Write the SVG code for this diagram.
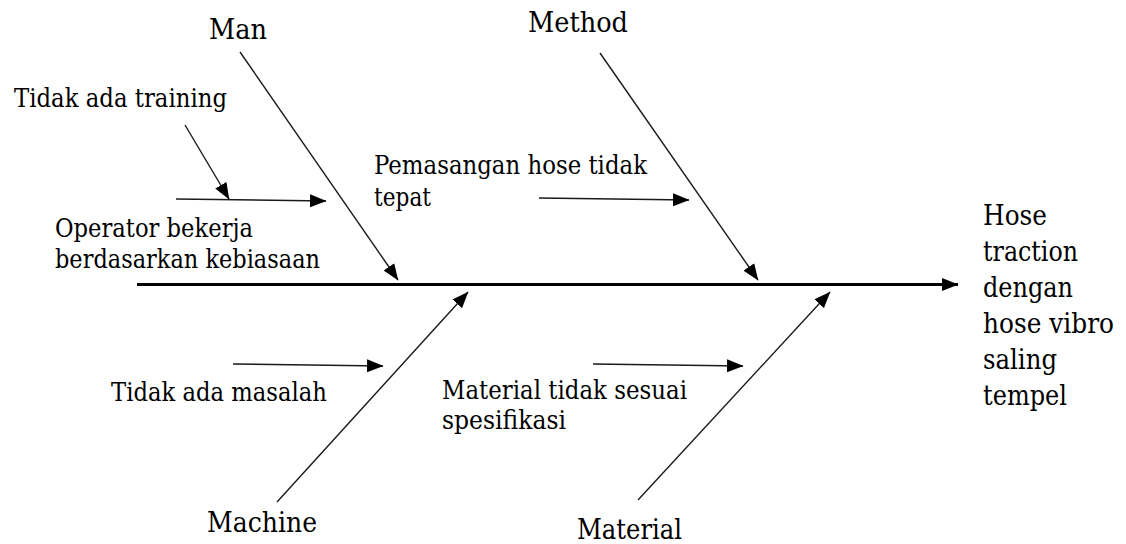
<svg xmlns="http://www.w3.org/2000/svg" width="1126" height="544" viewBox="0 0 1126 544">
<style>
text{font-family:'DejaVu Serif','Liberation Serif','Times New Roman',serif;fill:#000}
.cat{font-size:27.5px}
.sub{font-size:26px}
.eff{font-size:27px}
.bone{stroke:#1a1a1a;stroke-width:1.4;fill:none;marker-end:url(#ah)}
.spine{stroke:#000;stroke-width:3;fill:none;marker-end:url(#ah)}
</style>
<defs>
<marker id="ah" markerUnits="userSpaceOnUse" markerWidth="17" markerHeight="14" refX="16" refY="7" orient="auto" viewBox="0 0 17 14">
<path d="M0,0.5 L16.5,7 L0,13.5 z" fill="#000"/>
</marker>
</defs>
<rect width="1126" height="544" fill="#fff"/>
<g id="connectors">
<line class="spine" x1="137" y1="284.5" x2="958" y2="284.5"/>
<line class="bone" x1="240" y1="52" x2="398" y2="280"/>
<line class="bone" x1="600" y1="53" x2="758" y2="280"/>
<line class="bone" x1="277" y1="502" x2="468" y2="292"/>
<line class="bone" x1="638" y1="500" x2="830" y2="292"/>
<line class="bone" x1="185" y1="125" x2="229" y2="199"/>
<line class="bone" x1="176" y1="199" x2="326" y2="201"/>
<line class="bone" x1="539" y1="198" x2="689" y2="200"/>
<line class="bone" x1="233" y1="364" x2="383" y2="366"/>
<line class="bone" x1="593" y1="364" x2="743" y2="366"/>
</g>
<g id="man"><text class="cat" x="209" y="39" textLength="58" lengthAdjust="spacingAndGlyphs">Man</text></g>
<g id="method"><text class="cat" x="528" y="32" textLength="100" lengthAdjust="spacingAndGlyphs">Method</text></g>
<g id="machine"><text class="cat" x="207" y="532" textLength="110" lengthAdjust="spacingAndGlyphs">Machine</text></g>
<g id="material"><text class="cat" x="577" y="539" textLength="105" lengthAdjust="spacingAndGlyphs">Material</text></g>
<g id="tidak-ada-training"><text class="sub" x="14" y="107" textLength="213" lengthAdjust="spacingAndGlyphs">Tidak ada training</text></g>
<g id="operator"><text class="sub" x="55" y="237" textLength="198" lengthAdjust="spacingAndGlyphs">Operator bekerja</text><text class="sub" x="55" y="268" textLength="265" lengthAdjust="spacingAndGlyphs">berdasarkan kebiasaan</text></g>
<g id="pemasangan"><text class="sub" x="374" y="174" textLength="273" lengthAdjust="spacingAndGlyphs">Pemasangan hose tidak</text><text class="sub" x="374" y="206" textLength="57" lengthAdjust="spacingAndGlyphs">tepat</text></g>
<g id="tidak-ada-masalah"><text class="sub" x="111" y="401" textLength="216" lengthAdjust="spacingAndGlyphs">Tidak ada masalah</text></g>
<g id="material-tidak-sesuai"><text class="sub" x="442" y="399" textLength="245" lengthAdjust="spacingAndGlyphs">Material tidak sesuai</text><text class="sub" x="442" y="429" textLength="124" lengthAdjust="spacingAndGlyphs">spesifikasi</text></g>
<g id="effect">
<text class="eff" x="983" y="225" textLength="64" lengthAdjust="spacingAndGlyphs">Hose</text>
<text class="eff" x="983" y="261" textLength="95" lengthAdjust="spacingAndGlyphs">traction</text>
<text class="eff" x="983" y="297" textLength="90" lengthAdjust="spacingAndGlyphs">dengan</text>
<text class="eff" x="983" y="333" textLength="131" lengthAdjust="spacingAndGlyphs">hose vibro</text>
<text class="eff" x="983" y="369" textLength="74" lengthAdjust="spacingAndGlyphs">saling</text>
<text class="eff" x="983" y="405" textLength="84" lengthAdjust="spacingAndGlyphs">tempel</text>
</g>
</svg>
